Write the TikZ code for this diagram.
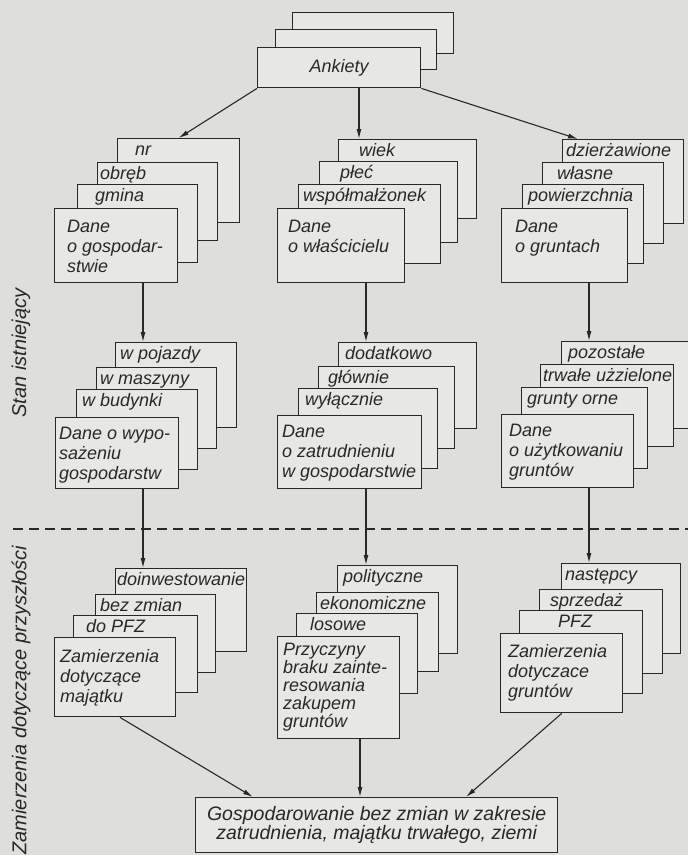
\documentclass[tikz,border=0pt]{standalone}
\usepackage{fontspec}
\setmainfont{Liberation Sans}
\usetikzlibrary{arrows.meta}
\definecolor{paper}{RGB}{222,222,219}
\definecolor{sheet}{RGB}{231,231,228}
\definecolor{ink}{RGB}{40,40,40}

\begin{document}
\begin{tikzpicture}[x=1pt,y=-1pt,
    card/.style 2 args={draw=ink, fill=sheet, line width=1.4pt, anchor=north west,
        inner sep=0pt, minimum width=#1, minimum height=#2},
    tag/.style={anchor=base west, inner sep=0pt, text=ink, font=\fontsize{18}{20}\selectfont\itshape},
    txt/.style={anchor=base west, inner sep=0pt, align=left, text=ink, font=\fontsize{18}{20}\selectfont\itshape},
    side/.style={rotate=90, inner sep=0pt, text=ink, font=\fontsize{20}{20}\selectfont\itshape},
    arr/.style={draw=ink, line width=1.1pt, -{Latex[length=10pt,width=5pt]}}]
                \useasboundingbox (0,0) rectangle (688,855);
                \fill[paper] (0,0) rectangle (688,855);

                % Ankiety
                \node [card={161}{41}] (ank3) at (292,12) {};
                \node [card={161}{40}] (ank2) at (275,29) {};
                \node [card={163}{40}, text=ink, font=\fontsize{18}{20}\selectfont\itshape] (ankiety) at (257,47) {Ankiety};

                % first row (base of txt nodes = last line)
                \node [card={122}{84}] (nr) at (117,138) {};
                \node [tag] (nrT) at ([xshift=18pt,yshift=-17pt]nr.north west) {nr};
                \node [card={120}{78}] (obreb) at (97,162) {};
                \node [tag] (obrebT) at ([xshift=3pt,yshift=-17pt]obreb.north west) {obręb};
                \node [card={120}{78}] (gmina) at (77,184) {};
                \node [tag] (gminaT) at ([xshift=18pt,yshift=-17pt]gmina.north west) {gmina};
                \node [card={123}{74}] (gosp) at (54,208) {};
                \node [txt] (gospT) at ([xshift=13pt,yshift=-64pt]gosp.north west) {Dane\\o gospodar-\\stwie};

                \node [card={138}{79}] (wiek) at (338,139) {};
                \node [tag] (wiekT) at ([xshift=21pt,yshift=-17pt]wiek.north west) {wiek};
                \node [card={138}{81}] (plec) at (319,161) {};
                \node [tag] (plecT) at ([xshift=21pt,yshift=-17pt]plec.north west) {płeć};
                \node [card={142}{79}] (wspol) at (298,184) {};
                \node [tag] (wspolT) at ([xshift=5pt,yshift=-17pt]wspol.north west) {współmałżonek};
                \node [card={127}{74}] (wlasc) at (277,208) {};
                \node [txt] (wlascT) at ([xshift=11pt,yshift=-44pt]wlasc.north west) {Dane\\o właścicielu};

                \node [card={121}{84}] (dzierz) at (562,139) {};
                \node [tag] (dzierzT) at ([xshift=4pt,yshift=-17pt]dzierz.north west) {dzierżawione};
                \node [card={121}{81}] (wlasne) at (542,162) {};
                \node [tag] (wlasneT) at ([xshift=15pt,yshift=-17pt]wlasne.north west) {własne};
                \node [card={121}{79}] (powierz) at (522,184) {};
                \node [tag] (powierzT) at ([xshift=6pt,yshift=-17pt]powierz.north west) {powierzchnia};
                \node [card={126}{74}] (grunty) at (501,208) {};
                \node [txt] (gruntyT) at ([xshift=14pt,yshift=-44pt]grunty.north west) {Dane\\o gruntach};

                % second row
                \node [card={121}{85}] (pojazdy) at (115,342) {};
                \node [tag] (pojazdyT) at ([xshift=5pt,yshift=-17pt]pojazdy.north west) {w pojazdy};
                \node [card={120}{81}] (maszyny) at (96,367) {};
                \node [tag] (maszynyT) at ([xshift=4pt,yshift=-17pt]maszyny.north west) {w maszyny};
                \node [card={121}{80}] (budynki) at (76,389) {};
                \node [tag] (budynkiT) at ([xshift=6pt,yshift=-17pt]budynki.north west) {w budynki};
                \node [card={123}{71}] (wypos) at (55,417) {};
                \node [txt] (wyposT) at ([xshift=4pt,yshift=-62pt]wypos.north west) {Dane o wypo-\\sażeniu\\gospodarstw};

                \node [card={138}{86}] (dodatk) at (338,342) {};
                \node [tag] (dodatkT) at ([xshift=7pt,yshift=-17pt]dodatk.north west) {dodatkowo};
                \node [card={136}{82}] (glown) at (318,366) {};
                \node [tag] (glownT) at ([xshift=10pt,yshift=-17pt]glown.north west) {głównie};
                \node [card={139}{80}] (wylacz) at (298,388) {};
                \node [tag] (wylaczT) at ([xshift=7pt,yshift=-17pt]wylacz.north west) {wyłącznie};
                \node [card={144}{73}] (zatrud) at (277,415) {};
                \node [txt] (zatrudT) at ([xshift=5pt,yshift=-62pt]zatrud.north west) {Dane\\o zatrudnieniu\\w gospodarstwie};

                \node [card={127}{87}] (pozost) at (561,341) {};
                \node [tag] (pozostT) at ([xshift=7pt,yshift=-17pt]pozost.north west) {pozostałe};
                \node [card={133}{82}] (trwale) at (540,364) {};
                \node [tag] (trwaleT) at ([xshift=3pt,yshift=-17pt]trwale.north west) {trwałe użzielone};
                \node [card={126}{81}] (orne) at (521,387) {};
                \node [tag] (orneT) at ([xshift=6pt,yshift=-17pt]orne.north west) {grunty orne};
                \node [card={132}{73}] (uzytk) at (501,414) {};
                \node [txt] (uzytkT) at ([xshift=8pt,yshift=-62pt]uzytk.north west) {Dane\\o użytkowaniu\\gruntów};

                % dashed border between the two parts
                \coordinate (sepL) at (13,529);
                \coordinate (sepR) at (688,529);
                \draw [ink, line width=1.3pt, dash pattern=on 10pt off 6pt] (sepL) -- (sepR);

                % third row
                \node [card={131}{83}] (doinw) at (115,568) {};
                \node [tag] (doinwT) at ([xshift=2pt,yshift=-17pt]doinw.north west) {doinwestowanie};
                \node [card={120}{78}] (bezzm) at (95,594) {};
                \node [tag] (bezzmT) at ([xshift=5pt,yshift=-17pt]bezzm.north west) {bez zmian};
                \node [card={124}{77}] (dopfz) at (73,615) {};
                \node [tag] (dopfzT) at ([xshift=13pt,yshift=-17pt]dopfz.north west) {do PFZ};
                \node [card={121}{79}] (majatku) at (54,637) {};
                \node [txt] (majatkuT) at ([xshift=6pt,yshift=-65pt]majatku.north west) {Zamierzenia\\dotyczące\\majątku};

                \node [card={120}{88}] (polit) at (337,565) {};
                \node [tag] (politT) at ([xshift=6pt,yshift=-17pt]polit.north west) {polityczne};
                \node [card={122}{79}] (ekon) at (316,592) {};
                \node [tag] (ekonT) at ([xshift=4pt,yshift=-17pt]ekon.north west) {ekonomiczne};
                \node [card={121}{80}] (losowe) at (296,613) {};
                \node [tag] (losoweT) at ([xshift=14pt,yshift=-17pt]losowe.north west) {losowe};
                \node [card={122}{102}] (przycz) at (277,636) {};
                \node [txt, font=\fontsize{18}{18}\selectfont\itshape] (przyczT) at ([xshift=6pt,yshift=-91pt]przycz.north west)
                      {Przyczyny\\braku zainte-\\resowania\\zakupem\\gruntów};

                \node [card={119}{90}] (nastepcy) at (561,563) {};
                \node [tag] (nastepcyT) at ([xshift=4pt,yshift=-17pt]nastepcy.north west) {następcy};
                \node [card={123}{84}] (sprzedaz) at (539,589) {};
                \node [tag] (sprzedazT) at ([xshift=11pt,yshift=-17pt]sprzedaz.north west) {sprzedaż};
                \node [card={123}{83}] (pfz) at (519,610) {};
                \node [tag] (pfzT) at ([xshift=39pt,yshift=-17pt]pfz.north west) {PFZ};
                \node [card={122}{79}] (gruntow) at (500,633) {};
                \node [txt] (gruntowT) at ([xshift=8pt,yshift=-64pt]gruntow.north west) {Zamierzenia\\dotyczace\\gruntów};

                % result
                \node [card={362}{55}] (wynik) at (195,797) {};
                \node [txt, anchor=center, align=center, font=\fontsize{19.5}{18}\selectfont\itshape] (wynikT) at (wynik.center)
                      {Gospodarowanie bez zmian w zakresie\\zatrudnienia, majątku trwałego, ziemi};

                % side labels
                \node [side] (stan) at (21,353) {Stan istniejący};
                \node [side] (przysz) at (21,700) {Zamierzenia dotyczące przyszłości};

                % arrows
                \draw [arr] (ankiety.south west) -- (nr.north);
                \draw [arr] ([xshift=21pt]wiek.north west |- ankiety.south) -- ([xshift=21pt]wiek.north west);
                \draw [arr] (ankiety.south east) -- ([xshift=16pt]dzierz.north west);

                \draw [arr] ([xshift=28pt]pojazdy.north west |- gosp.south) -- ([xshift=28pt]pojazdy.north west);
                \draw [arr] ([xshift=28pt]dodatk.north west |- wlasc.south) -- ([xshift=28pt]dodatk.north west);
                \draw [arr] ([xshift=28pt]pozost.north west |- grunty.south) -- ([xshift=28pt]pozost.north west);

                \draw [arr] ([xshift=28pt]doinw.north west |- wypos.south) -- ([xshift=28pt]doinw.north west);
                \draw [arr] ([xshift=29pt]polit.north west |- zatrud.south) -- ([xshift=29pt]polit.north west);
                \draw [arr] ([xshift=28pt]nastepcy.north west |- uzytk.south) -- ([xshift=28pt]nastepcy.north west);

                \draw [arr] ([xshift=66pt]majatku.south west) -- ([xshift=58pt]wynik.north west);
                \draw [arr] ([xshift=83pt]przycz.south west) -- ([xshift=165pt]wynik.north west);
                \draw [arr] (gruntow.south) -- ([xshift=271pt]wynik.north west);
\end{tikzpicture}
\end{document}
